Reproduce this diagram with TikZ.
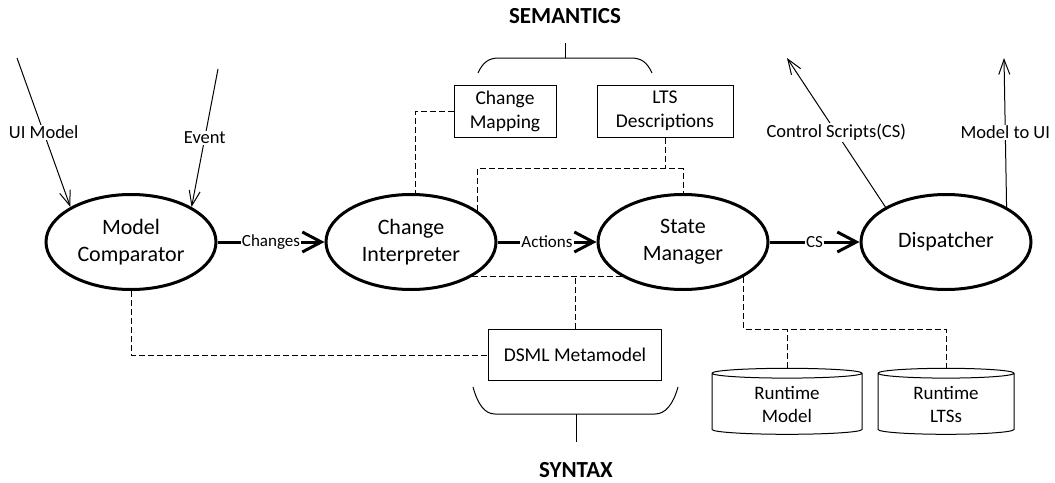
\documentclass[tikz,border=0pt]{standalone}
\usepackage{fontspec}
\setmainfont{Carlito}
\usepackage{tikz}
\usetikzlibrary{arrows.meta, calc, shapes.geometric, positioning}
\tikzset{
	proc/.style={ellipse, draw, line width=3pt, minimum width=170pt, minimum height=95pt, inner sep=0pt, align=center, font=\fontsize{22}{27}\selectfont},
	artefact/.style={rectangle, draw, line width=1pt, align=center, inner sep=0pt, font=\fontsize{19.5}{24}\selectfont},
	store/.style={cylinder, shape border rotate=90, aspect=0.15, draw, line width=1pt, align=center, inner sep=0pt, font=\fontsize{19}{23}\selectfont},
	flow/.style={line width=3pt, -{Straight Barb[length=19pt, width=20pt]}},
	io/.style={line width=1pt, -{Straight Barb[length=15pt, width=11pt]}},
	dep/.style={line width=1pt, dash pattern=on 6pt off 3pt},
	flowlbl/.style={fill=white, inner sep=1pt, font=\fontsize{17}{20}\selectfont},
	iolbl/.style={fill=white, inner sep=1pt, font=\fontsize{18.5}{22}\selectfont},
	headline/.style={font=\bfseries\fontsize{23}{27}\selectfont},
	brace/.style={line width=1pt},
}

\begin{document}
\begin{tikzpicture}[x=1pt, y=-1pt]
	\useasboundingbox (0,0) rectangle (1055,482);

	% processing steps
	\node[proc] (mc) at (131,242) {Model\\Comparator};
	\node[proc] (ci) at (411,242) {Change\\Interpreter};
	\node[proc] (sm) at (683,242) {State\\Manager};
	\node[proc] (disp) at (946,242) {Dispatcher};

	% artefacts
	\node[artefact, minimum width=102pt, minimum height=52pt] (cmap) at (505,111) {Change\\Mapping};
	\node[artefact, minimum width=136pt, minimum height=52pt] (lts) at (665,111) {LTS\\Descriptions};
	\node[artefact, minimum width=173pt, minimum height=51pt] (dsml) at (575,355) {DSML Metamodel};
	\node[store, minimum width=150pt, minimum height=66pt] (rtmodel) at (787,404) {Runtime\\Model};
	\node[store, minimum width=136pt, minimum height=66pt] (rtlts) at (946,404) {Runtime\\LTSs};

	\draw[flow] (mc) -- node[flowlbl] (lblchg) {Changes} (ci);
	\draw[flow] (ci) -- node[flowlbl] (lblact) {Actions} (sm);
	\draw[flow] (sm) -- node[flowlbl] (lblcs) {CS} (disp);

	\coordinate (uiin) at (17,58);
	\coordinate (evin) at (218,69);
	\coordinate (csout) at (787,58);
	\coordinate (uiout) at (1004,58);
	\draw[io] (uiin) -- node[iolbl] (lbluiin) {UI Model} (mc.150);
	\draw[io] (evin) -- node[iolbl] (lblevin) {Event} (mc.30);
	\draw[io] (disp.150) -- node[iolbl] (lblcsout) {Control Scripts(CS)} (csout);
	\draw[io] (disp.30) -- node[iolbl] (lbluiout) {Model to UI} (uiout);

	% dependencies
	\coordinate (ltsj) at ($ (lts.south)+(0,31) $);
	\coordinate (rtbus) at (0,329);
	\draw[dep] (cmap.west) -| (ci.85);
	\draw[dep] (lts.south) -- (ltsj);
	\draw[dep] (ci.25) |- (ltsj) -| (sm.north);
	\draw[dep] (ci.-30) -- (sm.-150);
	\draw[dep] (dsml.north) -- (dsml.north |- ci.-30);
	\draw[dep] (mc.south) |- (dsml.west);
	\draw[dep] (sm.-30) |- (rtbus -| rtlts.north) -- (rtlts.north);
	\draw[dep] (rtmodel.north) -- (rtmodel.north |- rtbus);

	% semantics / syntax
	\node[headline] (sem) at (565,16) {SEMANTICS};
	\node[headline] (syn) at (576,470) {SYNTAX};
	\draw[brace] (478,73) .. controls (483,62) and (489,58) .. (499,58) -- (631,58) .. controls (641,58) and (647,62) .. (652,73);
	\draw[brace] (565,58) -- (565,43);
	\draw[brace] (473,387) .. controls (478,405) and (485,414) .. (495,414) -- (655,414) .. controls (665,414) and (673,405) .. (678,387);
	\draw[brace] (576,414) -- (576,442);

\end{tikzpicture}
\end{document}
